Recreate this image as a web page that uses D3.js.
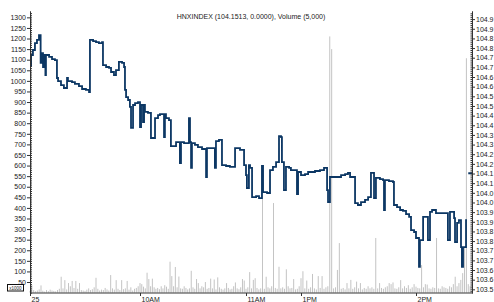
<!DOCTYPE html>
<html>
<head>
<meta charset="utf-8">
<script src="https://cdn.jsdelivr.net/npm/d3@7"></script>
<style>
  body { margin: 0; background: #fff; }
  svg { display: block; font-family: "Liberation Sans", Arial, sans-serif; }
  .tick text { fill: #222; }
</style>
</head>
<body>
<svg id="chart" width="494" height="302"></svg>
<script>
// session minutes since 9:00, lunch (11:30-13:00) removed
var pricePts = [
  [0, 104.712], [0.6, 104.764], [1.6, 104.790], [2.7, 104.826], [3.8, 104.842], [4.9, 104.867],
  [5.8, 104.723], [6.2, 104.774], [7.1, 104.702], [7.6, 104.764], [8.4, 104.660], [8.7, 104.764],
  [10.4, 104.754], [12.0, 104.743], [13.6, 104.738], [14.7, 104.645], [15.3, 104.629], [16.9, 104.608],
  [18.5, 104.593], [20.2, 104.645], [20.7, 104.629], [22.9, 104.624], [24.5, 104.614], [26.7, 104.603],
  [28.4, 104.588], [30.5, 104.583], [32.2, 104.572], [32.7, 104.842], [34.4, 104.836], [36.0, 104.831],
  [37.6, 104.826], [39.3, 104.831], [39.8, 104.712], [41.5, 104.702], [43.1, 104.697], [44.2, 104.676],
  [45.8, 104.660], [46.9, 104.686], [48.5, 104.728], [50.2, 104.723], [51.3, 104.702], [51.8, 104.583],
  [52.4, 104.546], [53.5, 104.531], [54.5, 104.495], [55.1, 104.386], [56.2, 104.505], [57.3, 104.515],
  [58.9, 104.520], [60.0, 104.391], [60.6, 104.505], [61.7, 104.417], [62.3, 104.505], [62.8, 104.469],
  [64.5, 104.464], [66.2, 104.334], [68.5, 104.437], [70.2, 104.453], [71.3, 104.458], [73.6, 104.339],
  [74.1, 104.458], [74.7, 104.437], [76.4, 104.427], [77.5, 104.292], [80.4, 104.313], [82.6, 104.204],
  [83.2, 104.313], [84.9, 104.308], [87.7, 104.437], [88.3, 104.313], [88.9, 104.179], [89.4, 104.308],
  [91.1, 104.298], [92.8, 104.287], [95.1, 104.277], [97.4, 104.132], [97.9, 104.282], [100.8, 104.282],
  [102.4, 104.179], [103.0, 104.318], [104.7, 104.324], [106.4, 104.194], [108.7, 104.189], [110.9, 104.184],
  [113.8, 104.282], [116.6, 104.272], [118.9, 104.194], [120.0, 104.142], [120.5, 104.075], [121.6, 104.194],
  [122.2, 104.179], [123.3, 104.028], [125.5, 104.033], [127.1, 104.023], [128.7, 104.189], [129.3, 104.054],
  [131.5, 104.049], [133.1, 104.168], [134.7, 104.184], [136.4, 104.209], [138.0, 104.344], [139.1, 104.339],
  [139.6, 104.209], [140.7, 104.064], [141.8, 104.184], [143.5, 104.179], [144.5, 104.168], [147.8, 104.044],
  [148.4, 104.158], [150.0, 104.142], [152.1, 104.147], [153.7, 104.158], [157.3, 104.163], [159.9, 104.168],
  [162.0, 104.179], [163.6, 104.064], [164.1, 104.002], [165.1, 104.132], [167.7, 104.132], [170.9, 104.142],
  [173.0, 104.147], [174.5, 104.153], [175.6, 104.132], [178.2, 103.997], [179.7, 103.987], [181.3, 104.002],
  [183.4, 104.013], [185.0, 104.028], [186.5, 104.153], [188.1, 104.023], [189.1, 104.127], [191.2, 104.121],
  [192.8, 104.116], [193.3, 103.961], [193.8, 104.116], [195.9, 104.111], [198.0, 104.106], [198.5, 103.987],
  [200.1, 103.976], [201.7, 103.961], [203.2, 103.956], [204.8, 103.940], [206.4, 103.925], [207.4, 103.857],
  [209.0, 103.847], [210.0, 103.816], [211.6, 103.666], [212.1, 103.805], [213.8, 103.925], [216.4, 103.805],
  [217.5, 103.951], [218.6, 103.961], [220.7, 103.945], [227.1, 103.805], [228.2, 103.951], [230.4, 103.919],
  [230.9, 103.795], [232.0, 103.894], [233.0, 103.909], [234.1, 103.769], [234.6, 103.666], [235.2, 103.769],
  [236.8, 103.909], [237.3, 103.909]
];

// volume per minute, x1000
var volume = [
  8, 35, 12, 6, 10, 15, 34, 9, 5, 12,
  7, 14, 10, 8, 6, 12, 18, 75, 20, 59,
  15, 45, 30, 55, 22, 55, 18, 45, 12, 10,
  8, 14, 20, 12, 16, 25, 70, 18, 10, 14,
  12, 22, 15, 10, 83, 20, 14, 59, 18, 12,
  59, 16, 20, 55, 14, 25, 10, 18, 22, 30,
  45, 40, 28, 20, 94, 64, 30, 66, 25, 18,
  22, 16, 30, 20, 35, 28, 18, 146, 78, 30,
  121, 25, 76, 20, 18, 30, 22, 15, 20, 103,
  25, 18, 64, 45, 20, 30, 25, 50, 18, 22,
  66, 20, 62, 15, 72, 25, 18, 14, 20, 45,
  22, 15, 18, 30, 48, 20, 16, 25, 64, 57,
  18, 25, 97, 20, 60, 68, 22, 15, 20, 498,
  18, 75, 25, 20, 30, 423, 22, 18, 122, 20,
  25, 18, 110, 30, 20, 22, 64, 15, 18, 30,
  68, 101, 20, 57, 18, 25, 88, 20, 15, 78,
  22, 78, 18, 25, 30, 1210, 1150, 20, 25, 107,
  234, 18, 22, 15, 45, 20, 60, 18, 25, 52,
  20, 45, 15, 22, 18, 30, 20, 25, 18, 258,
  20, 45, 22, 18, 25, 30, 45, 40, 48, 20,
  18, 25, 59, 20, 30, 22, 35, 18, 25, 40,
  28, 22, 20, 130, 25, 40, 38, 20, 18, 25,
  22, 258, 20, 18, 30, 25, 22, 18, 30, 25,
  40, 75, 30, 45, 60, 92, 216, 1107, 40, 30
];

var lastPrice = 104.1513;
var timeTicks = [0, 60, 120, 150, 210];
var timeLabels = ["25", "10AM", "11AM", "1PM", "2PM"];
var title = "HNXINDEX (104.1513, 0.0000), Volume (5,000)";

var svg = d3.select("#chart");
var left = 30, right = 472, top = 11, bottom = 293;

var x = d3.scaleLinear().domain([0, 60, 120, 150, 210, 240]).range([30, 140, 246, 301, 416, 472]);
var yVol = d3.scaleLinear().domain([0, 1330]).range([292.6, 11]);
var yPx = d3.scaleLinear().domain([103.531, 104.992]).range([293, 11]);

// volume bars
svg.append("g")
  .selectAll("rect")
  .data(volume)
  .enter()
  .append("rect")
  .attr("x", function (d, i) { return x(i) - 0.5; })
  .attr("width", 1)
  .attr("y", function (d) { return yVol(d); })
  .attr("height", function (d) { return yVol(0) - yVol(d); })
  .attr("fill", "#c4c4c4");

// price line
var line = d3.line()
  .x(function (d) { return x(d[0]); })
  .y(function (d) { return yPx(d[1]); })
  .curve(d3.curveStepAfter);

svg.append("path")
  .attr("d", line(pricePts))
  .attr("fill", "none")
  .attr("stroke", "#0c3764")
  .attr("stroke-width", 1.8);

svg.append("line")
  .attr("x1", x(238)).attr("x2", x(240))
  .attr("y1", yPx(lastPrice)).attr("y2", yPx(lastPrice))
  .attr("stroke", "#0c3764")
  .attr("stroke-width", 2);

// left axis (volume x1000)
var gl = svg.append("g").attr("transform", "translate(" + left + ",0)");
gl.call(d3.axisRight(yVol).tickValues(d3.range(0, 1330, 10)).tickSize(2).tickSizeOuter(0).tickFormat(""));
gl.append("g").call(d3.axisLeft(yVol).tickValues(d3.range(50, 1301, 50)).tickSize(3).tickSizeOuter(0).tickPadding(1).tickFormat(d3.format("d")));

// right axis (price)
var gr = svg.append("g").attr("transform", "translate(" + right + ",0)");
gr.call(d3.axisLeft(yPx).tickValues(d3.range(103.54, 104.99, 0.01)).tickSize(1.5).tickSizeOuter(0).tickFormat(""));
gr.append("g").call(d3.axisRight(yPx)
  .tickValues(d3.range(0, 29).map(function (i) { return 103.55 + i * 0.05; }))
  .tickSize(3).tickSizeOuter(0).tickPadding(1)
  .tickFormat(function (d) { return (Math.floor(d * 10 + 1e-6) / 10).toFixed(1); }));

// bottom axis
var gb = svg.append("g").attr("transform", "translate(0," + bottom + ")");
gb.call(d3.axisBottom(x).tickValues(timeTicks).tickSize(3).tickSizeOuter(0).tickFormat(function (d, i) { return timeLabels[i]; }));
gb.selectAll(".tick text").attr("text-anchor", "start").attr("dx", "1").attr("dy", "0.45em");
gb.select(".domain").attr("d", "M" + left + ",0H" + right);

svg.selectAll(".domain").attr("stroke", "#333");
svg.selectAll(".tick line").attr("stroke", "#333");
svg.selectAll(".tick text").attr("font-size", "7px").attr("font-family", "Liberation Sans, Arial, sans-serif");

// x1000 box
svg.append("rect").attr("x", 7.5).attr("y", 284.5).attr("width", 16).attr("height", 6.5)
  .attr("fill", "#fff").attr("stroke", "#111").attr("stroke-width", 1);
svg.append("text").attr("x", 15.5).attr("y", 289.8).attr("text-anchor", "middle")
  .attr("font-size", "4.5px").attr("fill", "#222").text("x1000");

// title
svg.append("text").attr("x", 251).attr("y", 19).attr("text-anchor", "middle")
  .attr("font-size", "7px").attr("fill", "#222").text(title);
</script>
</body>
</html>
